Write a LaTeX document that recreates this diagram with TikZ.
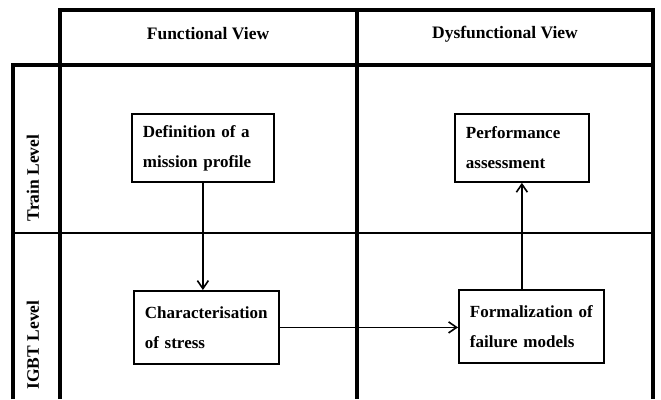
\documentclass[tikz,border=0pt]{standalone}
\usepackage{fontspec}
\setmainfont{Liberation Serif}
\usetikzlibrary{arrows.meta,positioning}

\begin{document}
\begin{tikzpicture}[
    x=1pt, y=-1pt,
    grid/.style={line width=3.2pt},
    divider/.style={line width=2pt},
    head/.style={font=\fontsize{17.5}{20}\selectfont\bfseries, inner sep=0pt},
    level/.style={font=\fontsize{17.5}{20}\selectfont\bfseries, inner sep=0pt, rotate=90},
    box/.style={rectangle, draw, line width=1.8pt, anchor=north west, align=left, inner xsep=11pt, inner ysep=0pt, font=\fontsize{17}{30}\selectfont\bfseries},
    flow/.style={-{Straight Barb[length=8pt,width=11pt]}, line width=1.6pt}
]
    \useasboundingbox (0,0) rectangle (661,399);

    % table frame
    \draw[grid] (60,399) -- (60,10) -- (653,10) -- (653,399);
    \draw[grid] (357,10) -- (357,399);
    \draw[grid] (13,399) -- (13,65) -- (653,65);
    \draw[divider] (13,233) -- (653,233);

    % headers
    \node[head] (functional) at (208,34) {Functional View};
    \node[head] (dysfunctional) at (505,34) {Dysfunctional View};
    \node[level] (train) at (33,178) {Train Level};
    \node[level] (igbt) at (33,345) {IGBT Level};

    % steps
    \node[box, minimum width=142pt, minimum height=68pt, text width=120pt] (mission) at (131,113) {Definition of a\\mission profile};
    \node[box, minimum width=134pt, minimum height=68pt, text width=112pt] (performance) at (454,113) {Performance\\assessment};
    \node[box, minimum width=145pt, minimum height=73pt, text width=123pt] (stress) at (133,290) {Characterisation\\of stress};
    \node[box, minimum width=145pt, minimum height=73pt, text width=123pt] (failure) at (458,289) {Formalization of\\failure models};

    \draw[flow] (mission.south) -- (mission.south |- stress.north);
    \draw[flow] (stress.east) -- (stress.east -| failure.west);
    \draw[flow] (performance.south |- failure.north) -- (performance.south);
\end{tikzpicture}
\end{document}
